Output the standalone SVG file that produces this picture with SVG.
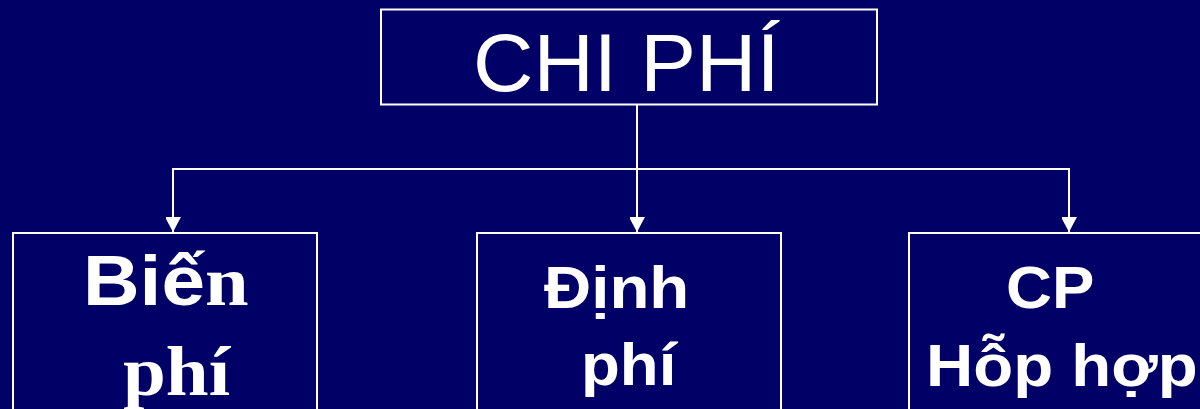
<svg xmlns="http://www.w3.org/2000/svg" width="1200" height="409" viewBox="0 0 1200 409">
  <style>
    .box { fill: none; stroke: #ffffff; stroke-width: 2; }
    .wire { fill: none; stroke: #ffffff; stroke-width: 2; }
    .title { font-family: "Liberation Sans", Arial, sans-serif; font-size: 82px; fill: #ffffff; }
    .lbl { font-family: "Liberation Sans", Arial, sans-serif; font-weight: bold; font-size: 60px; fill: #ffffff; }
    .lblB { font-family: "Liberation Sans", Arial, sans-serif; font-weight: bold; font-size: 70px; fill: #ffffff; }
    .serif { font-family: "Liberation Serif", "Times New Roman", serif; font-weight: bold; }
  </style>
  <defs>
    <marker id="arrow" markerUnits="userSpaceOnUse" markerWidth="16" markerHeight="15" refX="15" refY="8" orient="auto">
      <path d="M0,0 L15,8 L0,16 Z" fill="#ffffff"/>
    </marker>
  </defs>
  <rect x="0" y="0" width="1200" height="409" fill="#000066"/>

  <g id="connectors">
    <line class="wire" x1="637" y1="104" x2="637" y2="232" marker-end="url(#arrow)"/>
    <polyline class="wire" points="173,232 173,169 1069,169 1069,232" marker-end="url(#arrow)"/>
    <line class="wire" x1="173" y1="169" x2="173" y2="232" marker-end="url(#arrow)"/>
  </g>

  <g id="chi-phi">
    <rect class="box" x="381" y="9.5" width="496" height="95"/>
    <text class="title" transform="translate(473,91) scale(1.02,1)">CHI PHÍ</text>
  </g>

  <g id="bien-phi">
    <rect class="box" x="13" y="233" width="304" height="200"/>
    <text class="lblB" transform="translate(83,305) scale(1.12,1)">Biế<tspan class="serif">n</tspan></text>
    <text class="lblB serif" transform="translate(123,395) scale(1.1,1)">phí</text>
  </g>

  <g id="dinh-phi">
    <rect class="box" x="477" y="233" width="304" height="200"/>
    <text class="lbl" transform="translate(544,308) scale(1.09,1)">Định</text>
    <text class="lbl" transform="translate(581,385) scale(1.06,1)">phí</text>
  </g>

  <g id="cp-hon-hop">
    <rect class="box" x="909" y="233" width="400" height="200"/>
    <text class="lbl" transform="translate(1006,308) scale(1.06,1)">CP</text>
    <text class="lbl" transform="translate(926,386) scale(1.09,1)">Hỗp hợp</text>
  </g>
</svg>
